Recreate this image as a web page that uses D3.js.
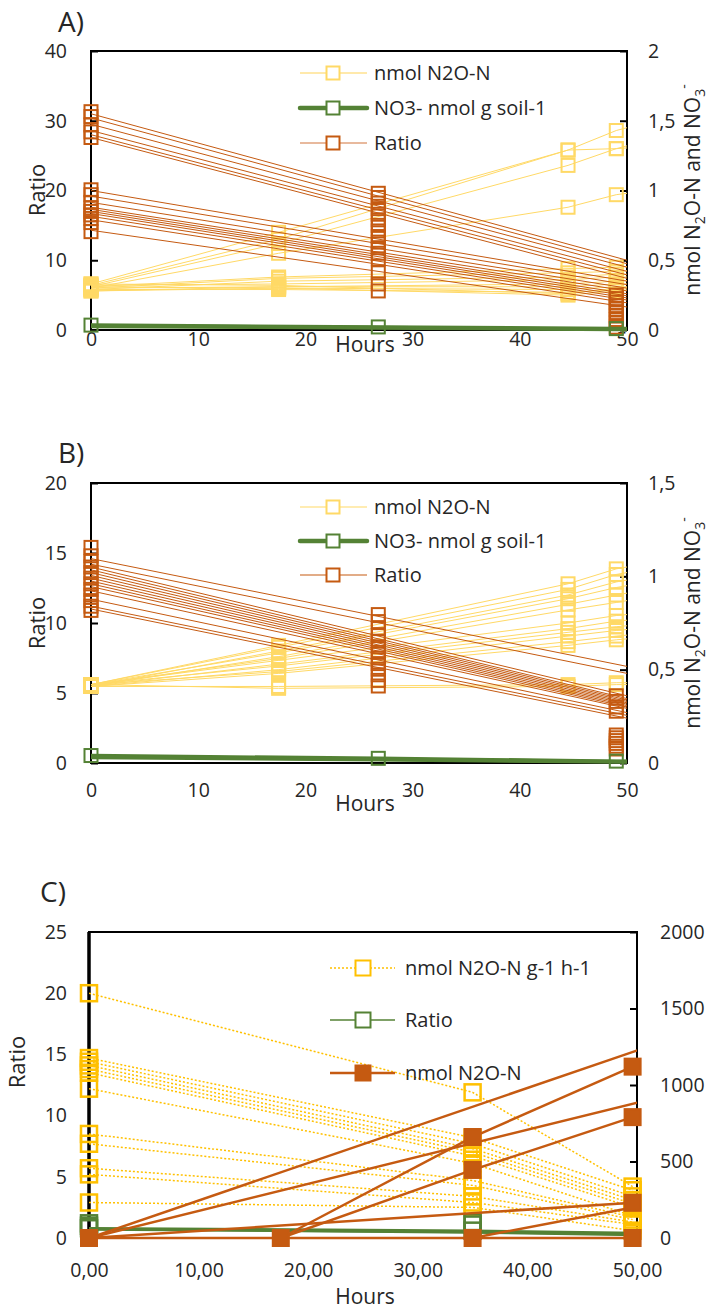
<!DOCTYPE html>
<html>
<head>
<meta charset="utf-8">
<script src="https://cdn.jsdelivr.net/npm/d3@7"></script>
<style>
  body { margin: 0; background: #fff; }
  svg { display: block; }
  text { font-family: 'Open Sans', 'Noto Sans', sans-serif; fill: #262626; }
</style>
</head>
<body>
<svg id="chart" width="712" height="1312"></svg>
<script>
// ---------------- shared ----------------
const HOUR_TICKS = [0, 10, 20, 30, 40, 50];
const YELLOW = "#FFD966", YELLOW_C = "#FFC000", GREEN = "#548235", ORANGE = "#C55A11";

// ---------------- Panel A ----------------
const ratioA_lineHours = [0, 50];
const ratioA_lines = [
  [31.0, 10.0], [30.4, 9.5], [29.5, 9.0], [28.6, 8.4], [28.0, 7.9], [27.6, 7.4],
  [20.0, 7.0], [19.2, 6.5], [18.3, 6.0], [17.6, 5.6], [17.3, 5.2], [17.0, 4.9],
  [16.7, 4.6], [16.3, 4.3], [15.8, 3.9], [14.3, 3.3]
];
const ratioA_markHours = [0, 26.8, 49];
const ratioA_marks = [
  [31.3, 30.6, 29.4, 28.4, 27.6, 20.1, 19.4, 18.3, 17.5, 17.0, 16.5, 16.0, 15.4, 14.1],
  [19.6, 19.0, 18.2, 17.4, 16.6, 15.8, 15.0, 14.2, 13.4, 12.6, 11.8, 11.0, 10.2, 8.2, 6.6, 5.6],
  [5.0, 4.5, 4.0, 3.5, 3.0, 2.5, 2.0, 1.5, 1.0, 0.4]
];
const n2oA_hours = [0, 17.5, 44.5, 49, 51];
const n2oA = [
  [0.33, 0.70, 1.29, 1.43, 1.47],
  [0.32, 0.65, 1.29, 1.30, 1.31],
  [0.31, 0.62, 1.18, 1.30, 1.34],
  [0.30, 0.55, 0.88, 0.97, 0.99],
  [0.31, 0.38, 0.44, 0.45, 0.46],
  [0.30, 0.37, 0.41, 0.42, 0.43],
  [0.29, 0.35, 0.38, 0.40, 0.40],
  [0.32, 0.33, 0.36, 0.38, 0.38],
  [0.28, 0.31, 0.33, 0.35, 0.36],
  [0.30, 0.31, 0.31, 0.33, 0.33],
  [0.31, 0.30, 0.29, 0.31, 0.31],
  [0.29, 0.29, 0.27, 0.29, 0.30],
  [0.33, 0.32, 0.26, 0.30, 0.31],
  [0.28, 0.30, 0.25, 0.28, 0.29]
];
const no3A_hours = [0, 26.8, 49, 51];
const no3A = [
  [0.035, 0.022, 0.010, 0.010],
  [0.030, 0.018, 0.006, 0.006],
  [0.025, 0.015, 0.004, 0.004]
];
const leftTicksA = [0, 10, 20, 30, 40];
const rightTicksA = [0, 0.5, 1, 1.5, 2];

// ---------------- Panel B ----------------
const ratioB_lineHours = [0, 50];
const ratioB_lines = [
  [14.6, 6.9], [14.2, 6.4], [14.0, 4.8], [13.8, 4.6], [13.6, 4.5], [13.4, 4.4],
  [13.2, 4.3], [13.0, 4.2], [12.8, 4.1], [12.6, 4.0], [12.3, 3.9], [11.7, 3.6],
  [11.2, 3.4], [11.0, 3.2]
];
const ratioB_markHours = [0, 26.8, 49];
const ratioB_marks = [
  [15.4, 14.8, 14.4, 14.0, 13.6, 13.2, 12.8, 12.4, 12.0, 11.6, 11.2, 10.9],
  [10.6, 10.1, 9.6, 9.1, 8.7, 8.3, 7.9, 7.5, 7.1, 6.7, 6.3, 5.9, 5.5],
  [4.8, 4.4, 4.0, 3.7, 2.0, 1.8, 1.6, 1.4, 1.2, 1.0]
];
const n2oB_hours = [0, 17.5, 44.5, 49, 51];
const n2oB = [
  [0.42, 0.63, 0.96, 1.04, 1.06],
  [0.42, 0.62, 0.93, 1.01, 1.03],
  [0.41, 0.60, 0.90, 0.97, 0.99],
  [0.42, 0.59, 0.88, 0.94, 0.96],
  [0.41, 0.57, 0.85, 0.90, 0.92],
  [0.42, 0.56, 0.82, 0.86, 0.88],
  [0.42, 0.55, 0.75, 0.79, 0.80],
  [0.41, 0.53, 0.72, 0.76, 0.77],
  [0.42, 0.52, 0.70, 0.73, 0.74],
  [0.41, 0.50, 0.68, 0.71, 0.72],
  [0.42, 0.49, 0.65, 0.68, 0.69],
  [0.41, 0.48, 0.63, 0.66, 0.67],
  [0.41, 0.41, 0.42, 0.43, 0.43],
  [0.42, 0.40, 0.41, 0.42, 0.42]
];
const no3B_hours = [0, 26.8, 49, 51];
const no3B = [
  [0.040, 0.025, 0.010, 0.010],
  [0.035, 0.020, 0.008, 0.008],
  [0.030, 0.018, 0.005, 0.005]
];
const leftTicksB = [0, 5, 10, 15, 20];
const rightTicksB = [0, 0.5, 1, 1.5];

// ---------------- Panel C ----------------
const rateC_hours = [0, 35, 49.6];
const rateC = [
  [20.0, 11.9, 4.2],
  [14.7, 8.2, 3.9],
  [14.4, 7.7, 3.4],
  [14.1, 7.3, 3.1],
  [13.8, 7.0, 2.8],
  [13.5, 6.7, 2.5],
  [12.2, 6.1, 1.8],
  [8.5, 4.7, 1.7],
  [7.7, 4.3, 1.5],
  [5.7, 3.4, 1.3],
  [5.2, 2.9, 1.1],
  [2.9, 2.5, 0.6]
];
const ratioC_lineHours = [0, 35, 50];
const ratioC_lines = [
  [0.80, 0.60, 0.40],
  [0.70, 0.50, 0.30],
  [0.75, 0.45, 0.25]
];
const ratioC_markHours = [0, 35];
const ratioC_marks = [
  [1.2, 1.0, 0.8],
  [1.3, 1.1, 0.6]
];
// nmol N2O-N traces as [hour, value] pairs
const n2oC_lines = [
  [[0, 0], [51, 1250]],
  [[0, 0], [51, 902]],
  [[17.5, 0], [35, 660], [49.6, 1120]],
  [[17.5, 0], [35, 445], [49.6, 790]],
  [[0, 0], [49.6, 230]],
  [[35, 0], [49.6, 200]],
  [[0, 0], [17.5, 0], [35, 0], [49.6, 0], [51, 0]]
];
const n2oC_marks = [
  [0, 0], [17.5, 0], [35, 0], [35, 445], [35, 660],
  [49.6, 0], [49.6, 230], [49.6, 790], [49.6, 1120]
];
const leftTicksC = [0, 5, 10, 15, 20, 25];
const rightTicksC = [0, 500, 1000, 1500, 2000];

// ---------------- drawing ----------------
const svg = d3.select("#chart");
const comma = d => String(d).replace(".", ",");

function pairs(hours, values) { return values.map((v, i) => [hours[i], v]); }

function drawTraces(g, x, y, traces, st, clipId) {
  const line = d3.line().x(d => x(d[0])).y(d => y(d[1]));
  g.append("g").attr("clip-path", `url(#${clipId})`)
    .selectAll("path").data(traces).join("path")
    .attr("d", line)
    .attr("fill", "none")
    .attr("stroke", st.color)
    .attr("stroke-width", st.width)
    .attr("stroke-dasharray", st.dash || null);
}

function drawMarks(g, x, y, points, st) {
  g.append("g").selectAll("rect").data(points).join("rect")
    .attr("x", d => x(d[0]) - st.size / 2)
    .attr("y", d => y(d[1]) - st.size / 2)
    .attr("width", st.size).attr("height", st.size)
    .attr("fill", st.fill || "none")
    .attr("stroke", st.color)
    .attr("stroke-width", st.sw);
}

function panel(p) {
  const g = svg.append("g");
  const x = d3.scaleLinear().domain([0, 50]).range([p.left, p.right]);
  const yL = d3.scaleLinear().domain(p.leftDomain).range([p.bottom, p.top]);
  const yR = d3.scaleLinear().domain(p.rightDomain).range([p.bottom, p.top]);
  const clipId = "clip" + p.key;
  g.append("clipPath").attr("id", clipId).append("rect")
    .attr("x", p.left).attr("y", p.top - 40)
    .attr("width", p.right - p.left).attr("height", p.bottom - p.top + 80);

  // frame
  g.append("rect").attr("x", p.left).attr("y", p.top)
    .attr("width", p.right - p.left).attr("height", p.bottom - p.top)
    .attr("fill", "none").attr("stroke", "#000").attr("stroke-width", 2);
  if (p.thickLeft) {
    g.append("line").attr("x1", p.left).attr("x2", p.left)
      .attr("y1", p.top).attr("y2", p.bottom)
      .attr("stroke", "#000").attr("stroke-width", 3.5);
  }

  // axes
  const fs = 19.5;
  const ax = (sel) => {
    sel.select(".domain").remove();
    sel.selectAll("text").attr("font-size", fs).attr("fill", "#262626")
      .style("font-family", "'Open Sans', 'Noto Sans', sans-serif");
    sel.selectAll("line").attr("stroke", "#000").attr("stroke-width", 2);
  };
  g.append("g").attr("transform", `translate(${p.left},0)`)
    .call(d3.axisLeft(yL).tickValues(p.leftTicks).tickSizeInner(p.leftTickIn ? -7 : 0)
      .tickSizeOuter(0).tickPadding(p.left - 67).tickFormat(comma))
    .call(ax);
  g.append("g").attr("transform", `translate(${p.right},0)`)
    .call(d3.axisRight(yR).tickValues(p.rightTicks).tickSizeInner(-7)
      .tickSizeOuter(0).tickPadding(p.rightPad).tickFormat(comma))
    .call(ax);
  g.append("g").attr("transform", `translate(0,${p.bottom})`)
    .call(d3.axisBottom(x).tickValues(HOUR_TICKS).tickSize(0)
      .tickPadding(p.xLabelY - p.bottom - 0.36 * fs).tickFormat(p.xFmt))
    .call(ax);

  // titles
  g.append("text").attr("x", p.titleX).attr("y", p.titleY)
    .attr("font-size", 28).text(p.title);
  g.append("text").attr("x", 365).attr("y", p.hoursY).attr("dy", "0.35em")
    .attr("text-anchor", "middle").attr("font-size", 21).text("Hours");
  g.append("text")
    .attr("transform", `translate(${p.ratioX},${p.ratioY}) rotate(-90)`)
    .attr("text-anchor", "middle").attr("dy", "0.35em")
    .attr("font-size", 22).text("Ratio");
  if (p.rightTitle) {
    const t = g.append("text")
      .attr("transform", `translate(${p.rightTitleX},${p.ratioY}) rotate(-90)`)
      .attr("text-anchor", "middle").attr("dy", "0.35em").attr("font-size", 21);
    t.append("tspan").text("nmol N");
    t.append("tspan").attr("font-size", 14).attr("dy", 5).text("2");
    t.append("tspan").attr("dy", -5).text("O-N and NO");
    t.append("tspan").attr("font-size", 14).attr("dy", 5).text("3");
    t.append("tspan").attr("font-size", 14).attr("dy", -16).text("-");
  }

  p.draw(g, x, yL, yR, clipId);

  // legend
  const lg = g.append("g");
  p.legend.forEach((it, i) => {
    const y = p.legendY[i];
    lg.append("line").attr("x1", p.lx1).attr("x2", p.lx2).attr("y1", y).attr("y2", y)
      .attr("stroke", it.lineColor).attr("stroke-width", it.width)
      .attr("stroke-dasharray", it.dash || null).attr("stroke-linecap", it.cap || "butt");
    lg.append("rect").attr("x", p.mx - it.size / 2).attr("y", y - it.size / 2)
      .attr("width", it.size).attr("height", it.size)
      .attr("fill", it.fill || "#fff").attr("stroke", it.color).attr("stroke-width", 2);
    lg.append("text").attr("x", p.tx).attr("y", y).attr("dy", "0.35em")
      .attr("font-size", 20).text(it.label);
  });
}

const MS = 13;

panel({
  key: "A", left: 91, right: 627, top: 51, bottom: 330,
  leftDomain: [0, 40], rightDomain: [0, 2],
  leftTicks: leftTicksA, rightTicks: rightTicksA, leftTickIn: true, rightPad: 21,
  xFmt: d => d, xLabelY: 339, hoursY: 345,
  title: "A)", titleX: 58, titleY: 32,
  ratioX: 37, ratioY: 190, rightTitle: true, rightTitleX: 693,
  legendY: [73, 108, 143], lx1: 300, lx2: 367, mx: 333, tx: 374,
  legend: [
    { label: "nmol N2O-N", color: YELLOW, lineColor: "#FFE28F", width: 1.5, size: 13 },
    { label: "NO3- nmol g soil-1", color: GREEN, lineColor: GREEN, width: 4.5, size: 13, cap: "round" },
    { label: "Ratio", color: ORANGE, lineColor: "#E0A27C", width: 1.5, size: 13 }
  ],
  draw(g, x, yL, yR, clip) {
    drawTraces(g, x, yR, n2oA.map(t => pairs(n2oA_hours, t)), { color: YELLOW, width: 1 }, clip);
    drawMarks(g, x, yR, n2oA.flatMap(t => pairs(n2oA_hours, t)).filter(d => d[0] <= 50),
      { color: YELLOW, size: MS, sw: 2 });
    drawTraces(g, x, yL, ratioA_lines.map(t => pairs(ratioA_lineHours, t)), { color: ORANGE, width: 1 }, clip);
    drawMarks(g, x, yL, ratioA_marks.flatMap((vals, i) => vals.map(v => [ratioA_markHours[i], v])),
      { color: ORANGE, size: MS, sw: 2 });
    drawTraces(g, x, yR, no3A.map(t => pairs(no3A_hours, t)), { color: GREEN, width: 3.5 }, clip);
    drawMarks(g, x, yR, no3A.slice(0, 1).flatMap(t => pairs(no3A_hours, t)).filter(d => d[0] <= 50),
      { color: GREEN, size: MS, sw: 2 });
  }
});

panel({
  key: "B", left: 91, right: 627, top: 483, bottom: 763,
  leftDomain: [0, 20], rightDomain: [0, 1.5],
  leftTicks: leftTicksB, rightTicks: rightTicksB, leftTickIn: true, rightPad: 21,
  xFmt: d => d, xLabelY: 790, hoursY: 804,
  title: "B)", titleX: 58, titleY: 463,
  ratioX: 37, ratioY: 623, rightTitle: true, rightTitleX: 693,
  legendY: [507, 541, 575], lx1: 300, lx2: 367, mx: 333, tx: 374,
  legend: [
    { label: "nmol N2O-N", color: YELLOW, lineColor: "#FFD966", width: 1.2, size: 13 },
    { label: "NO3- nmol g soil-1", color: GREEN, lineColor: GREEN, width: 4.5, size: 13, cap: "round" },
    { label: "Ratio", color: ORANGE, lineColor: ORANGE, width: 1.2, size: 13 }
  ],
  draw(g, x, yL, yR, clip) {
    drawTraces(g, x, yR, n2oB.map(t => pairs(n2oB_hours, t)), { color: YELLOW, width: 1 }, clip);
    drawMarks(g, x, yR, n2oB.flatMap(t => pairs(n2oB_hours, t)).filter(d => d[0] <= 50),
      { color: YELLOW, size: MS, sw: 2 });
    drawTraces(g, x, yL, ratioB_lines.map(t => pairs(ratioB_lineHours, t)), { color: ORANGE, width: 1 }, clip);
    drawMarks(g, x, yL, ratioB_marks.flatMap((vals, i) => vals.map(v => [ratioB_markHours[i], v])),
      { color: ORANGE, size: MS, sw: 2 });
    drawTraces(g, x, yR, no3B.map(t => pairs(no3B_hours, t)), { color: GREEN, width: 3.5 }, clip);
    drawMarks(g, x, yR, no3B.slice(0, 1).flatMap(t => pairs(no3B_hours, t)).filter(d => d[0] <= 50),
      { color: GREEN, size: MS, sw: 2 });
  }
});

panel({
  key: "C", left: 89, right: 637, top: 932, bottom: 1238,
  leftDomain: [0, 25], rightDomain: [0, 2000],
  leftTicks: leftTicksC, rightTicks: rightTicksC, leftTickIn: false, rightPad: 23,
  thickLeft: true,
  xFmt: d => d3.format(".2f")(d).replace(".", ","), xLabelY: 1270, hoursY: 1297,
  title: "C)", titleX: 40, titleY: 902,
  ratioX: 17, ratioY: 1062, rightTitle: false,
  legendY: [968, 1020, 1073], lx1: 330, lx2: 395, mx: 363, tx: 405,
  legend: [
    { label: "nmol N2O-N g-1 h-1", color: YELLOW_C, lineColor: YELLOW_C, width: 1.5, size: 15, dash: "2,2" },
    { label: "Ratio", color: GREEN, lineColor: GREEN, width: 1.5, size: 15 },
    { label: "nmol N2O-N", color: ORANGE, lineColor: ORANGE, width: 2.5, size: 15, fill: ORANGE }
  ],
  draw(g, x, yL, yR, clip) {
    drawTraces(g, x, yL, rateC.map(t => pairs(rateC_hours, t)), { color: YELLOW_C, width: 1.5, dash: "2,2" }, clip);
    drawMarks(g, x, yL, rateC.flatMap(t => pairs(rateC_hours, t)), { color: YELLOW_C, size: 16, sw: 2.5 });
    drawTraces(g, x, yL, ratioC_lines.map(t => pairs(ratioC_lineHours, t)), { color: GREEN, width: 2.5 }, clip);
    drawMarks(g, x, yL, ratioC_marks.flatMap((vals, i) => vals.map(v => [ratioC_markHours[i], v])),
      { color: GREEN, size: 16, sw: 2.5 });
    drawTraces(g, x, yR, n2oC_lines, { color: ORANGE, width: 2.5 }, clip);
    drawMarks(g, x, yR, n2oC_marks, { color: ORANGE, fill: ORANGE, size: 16, sw: 2 });
  }
});
</script>
</body>
</html>
